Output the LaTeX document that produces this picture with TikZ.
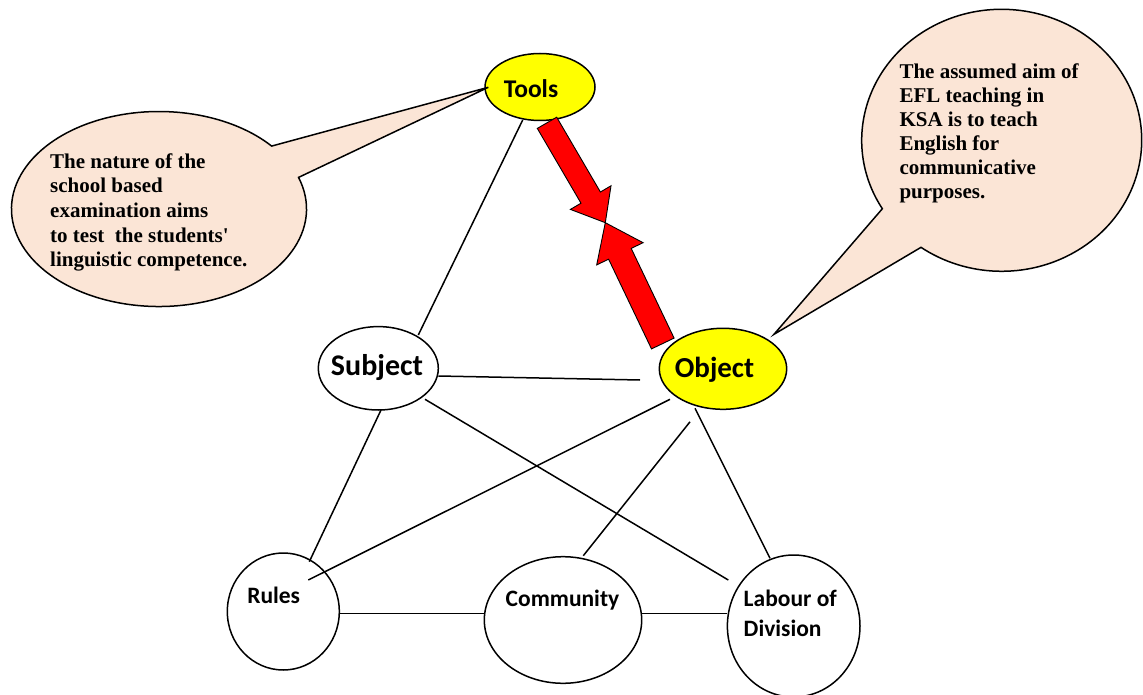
\documentclass[tikz,border=0pt]{standalone}
\usepackage{fontspec}
\setmainfont{Liberation Serif}
\newfontfamily\carlito{Carlito}
\usetikzlibrary{shapes.geometric,calc}
\definecolor{peach}{HTML}{FBE5D6}
\definecolor{yel}{HTML}{FFFF00}
\begin{document}
\begin{tikzpicture}[x=1pt,y=-1pt,
  ent/.style={ellipse, draw, inner sep=0pt, line width=1.5pt},
  lbl/.style={inner sep=0pt, anchor=base},
  conn/.style={line width=1.5pt},
  callout/.style={fill=peach, draw, line width=1.5pt, line join=miter},
  calltext/.style={anchor=base west, inner sep=0pt},
  bigarrow/.style={fill=red, draw=black, line width=0.9pt, line join=miter}]
\useasboundingbox (0,0) rectangle (1143,695);

% entity ellipses
\node[ent, fill=yel, minimum width=110pt, minimum height=67pt] (tools) at (540,87) {};
\node[ent, minimum width=120pt, minimum height=83.4pt] (subj) at (378.3,368.3) {};
\node[ent, fill=yel, minimum width=127.4pt, minimum height=81pt] (obj) at (723,368.8) {};
\node[ent, minimum width=112pt, minimum height=117pt] (rules) at (283.3,611.5) {};
\node[ent, minimum width=157.4pt, minimum height=126.6pt] (comm) at (563,620) {};
\node[ent, minimum width=132.6pt, minimum height=142pt] (lab) at (793.7,626) {};

% labels
\node[lbl, font=\carlito\bfseries\fontsize{25.5}{29}\selectfont] (toolsT) at (531,97.3) {Tools};
\node[lbl, font=\carlito\bfseries\fontsize{30}{34}\selectfont] (subjT) at (377,375) {Subject};
\node[lbl, font=\carlito\bfseries\fontsize{29}{33}\selectfont] (objT) at (714.5,377.3) {Object};
\node[lbl, font=\carlito\bfseries\fontsize{23.5}{29.3}\selectfont] (rulesT) at (273.7,603.3) {Rules};
\node[lbl, font=\carlito\bfseries\fontsize{23.5}{29.3}\selectfont] (commT) at (562.5,606.7) {Community};
\node[calltext, font=\carlito\bfseries\fontsize{23.5}{29.3}\selectfont] (labT) at (743.5,606.7)
  {\begin{tabular}[t]{@{}l@{}}Labour of\\Division\end{tabular}};

% connectors
\draw[conn] ($(tools.center)+(-17.3,33)$) -- ($(subj.center)+(40,-33.3)$);
\draw[conn] ($(subj.center)+(60,7.7)$) -- ($(obj.center)+(-83,11.2)$);
\draw[conn] ($(subj.center)+(46.7,31)$) -- ($(lab.center)+(-65.4,-46)$);
\draw[conn] ($(subj.center)+(2.7,41.7)$) -- ($(rules.center)+(26,-49.8)$);
\draw[conn] ($(obj.center)+(-53,30.5)$) -- ($(rules.center)+(25,-31.5)$);
\draw[conn] ($(obj.center)+(-33,53)$) -- ($(comm.center)+(20.3,-64.3)$);
\draw[conn] ($(obj.center)+(-28,39.5)$) -- ($(lab.center)+(-23.7,-67.7)$);
\draw[conn] ($(rules.center)+(56,1.8)$) -- ($(comm.center)+(-78.7,-6.7)$);
\draw[conn] ($(comm.center)+(78.7,-6.7)$) -- ($(lab.center)+(-66.4,-12.7)$);

% red double arrow between Tools and Object
\draw[bigarrow] (537.3,128.4) -- (581.0,203.2) -- (570.4,209.4) -- (605.3,222.7)
  -- (611.0,185.8) -- (600.4,192.0) -- (556.7,117.2) -- cycle;
\draw[bigarrow] (651.5,348.9) -- (608.6,259.2) -- (596.7,264.9) -- (605.3,222.7)
  -- (643.1,242.7) -- (631.2,248.4) -- (674.1,338.1) -- cycle;

% callouts
\draw[callout] ($(159,209)+(-18.9:147.5 and 97.5)$)
  arc[start angle=-18.9, end angle=319.8, x radius=147.5, y radius=97.5]
  -- ($(tools.center)+(-51.7,0.3)$) -- cycle;
\node[calltext, font=\bfseries\fontsize{21}{24.6}\selectfont] (ltext) at (50,168.3)
  {\begin{tabular}[t]{@{}l@{}}The nature of the\\school based\\examination aims\\to test\ \ the students\textquotesingle\\linguistic competence.\end{tabular}};

\draw[callout] ($(1001.7,140.3)+(148.5:140 and 131)$)
  arc[start angle=148.5, end angle=485.2, x radius=140, y radius=131]
  -- ($(obj.center)+(51,-34.5)$) -- cycle;
\node[calltext, font=\bfseries\fontsize{21}{24}\selectfont] (rtext) at (899.3,78.3)
  {\begin{tabular}[t]{@{}l@{}}The assumed aim of\\EFL teaching in\\KSA is to teach\\English for\\communicative\\purposes.\end{tabular}};
\end{tikzpicture}
\end{document}
